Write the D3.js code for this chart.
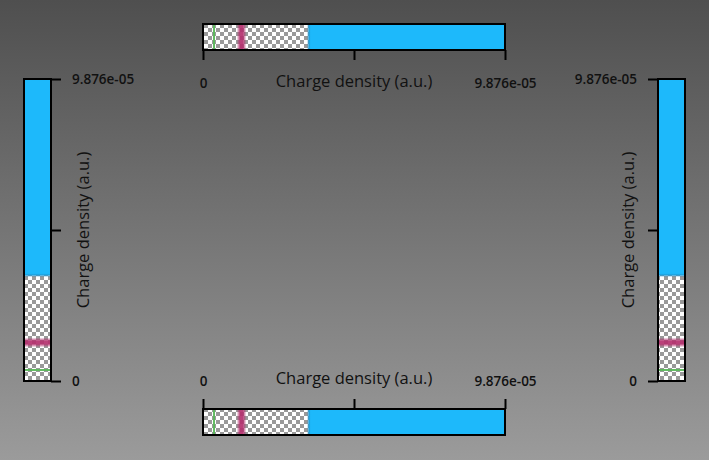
<!DOCTYPE html>
<html>
<head>
<meta charset="utf-8">
<script src="https://cdn.jsdelivr.net/npm/d3@7"></script>
<style>
  html, body { margin: 0; padding: 0; }
  body { width: 709px; height: 460px; overflow: hidden; }
  text { font-family: "Open Sans", "Noto Sans", sans-serif; fill: #111111; }
</style>
</head>
<body>
<svg id="chart" width="709" height="460"></svg>
<script>
// ---- data ----
const domainMin = 0;
const domainMax = 9.876e-05;
const tickValues = [0, 4.938e-05, 9.876e-05];
const tickLabels = ["0", "", "9.876e-05"];
const axisTitle = "Charge density (a.u.)";

// transfer-function stops (data value, colour, opacity)
const tfValues    = [0, 3.15e-6, 3.45e-6, 3.75e-6, 4.05e-6, 1.10e-5, 1.21e-5, 1.31e-5, 1.42e-5, 3.40e-5, 3.47e-5, 3.52e-5, 9.876e-05];
const tfColors    = ["#5cb85c", "#5cb85c", "#5cb85c", "#5cb85c", "#5cb85c", "#b4306e", "#b4306e", "#b4306e", "#b4306e", "#2a8cc4", "#1c9fdc", "#1db9fb", "#1db9fb"];
const tfOpacities = [0, 0, 1, 1, 0, 0, 0.92, 0.92, 0, 0, 1, 1, 1];

// ---- drawing ----
const svg = d3.select("#chart");
const defs = svg.append("defs");

// background
const bg = defs.append("linearGradient").attr("id", "bg")
  .attr("x1", 0).attr("y1", 0).attr("x2", 0).attr("y2", 1);
bg.append("stop").attr("offset", 0).attr("stop-color", "#4f4f4f");
bg.append("stop").attr("offset", 1).attr("stop-color", "#9b9b9b");
svg.append("rect").attr("width", 709).attr("height", 460).attr("fill", "url(#bg)");

// checkerboard
const cs = 4;
const pat = defs.append("pattern").attr("id", "checker")
  .attr("patternUnits", "userSpaceOnUse").attr("width", cs * 2).attr("height", cs * 2);
pat.append("rect").attr("width", cs * 2).attr("height", cs * 2).attr("fill", "#ffffff");
pat.append("rect").attr("x", cs).attr("width", cs).attr("height", cs).attr("fill", "#999999");
pat.append("rect").attr("y", cs).attr("width", cs).attr("height", cs).attr("fill", "#999999");

const frac = d3.scaleLinear().domain([domainMin, domainMax]).range([0, 1]);
function makeGradient(id, horizontal) {
  const g = defs.append("linearGradient").attr("id", id)
    .attr("x1", 0).attr("y1", horizontal ? 0 : 1)
    .attr("x2", horizontal ? 1 : 0).attr("y2", 0);
  g.selectAll("stop").data(tfValues).join("stop")
    .attr("offset", d => frac(d))
    .attr("stop-color", (d, i) => tfColors[i])
    .attr("stop-opacity", (d, i) => tfOpacities[i]);
}
makeGradient("tfH", true);
makeGradient("tfV", false);

const fmt = (d) => tickLabels[tickValues.indexOf(d)];

function styleAxis(g) {
  g.select(".domain").remove();
  g.selectAll(".tick line").attr("stroke", "#000").attr("stroke-width", 2);
  g.selectAll(".tick text").attr("fill", "#111111")
    .style("font-size", "13.5px").style("font-weight", "600");
}

const titleSize = "16.5px";
const titleWeight = "500";

// horizontal colorbars
function horizontalBar(y0, h, below) {
  const x = d3.scaleLinear().domain([domainMin, domainMax]).range([203, 505]);
  const [a, b] = x.range();
  svg.append("rect").attr("x", a).attr("y", y0).attr("width", b - a).attr("height", h)
    .attr("fill", "url(#checker)");
  svg.append("rect").attr("x", a).attr("y", y0).attr("width", b - a).attr("height", h)
    .attr("fill", "url(#tfH)");
  svg.append("rect").attr("x", a).attr("y", y0).attr("width", b - a).attr("height", h)
    .attr("fill", "none").attr("stroke", "#000").attr("stroke-width", 2);
  let ax;
  if (below) {
    ax = svg.append("g").attr("transform", `translate(0,${y0 + h})`)
      .call(d3.axisBottom(x).tickValues(tickValues).tickFormat(fmt).tickSize(10).tickPadding(18));
  } else {
    ax = svg.append("g").attr("transform", `translate(0,${y0})`)
      .call(d3.axisTop(x).tickValues(tickValues).tickFormat(fmt).tickSize(10).tickPadding(13));
  }
  styleAxis(ax);
  svg.append("text")
    .attr("x", (a + b) / 2)
    .attr("y", below ? y0 + h + 37 : y0 - 25)
    .attr("text-anchor", "middle")
    .style("font-size", titleSize).style("font-weight", titleWeight)
    .text(axisTitle);
}
horizontalBar(24, 26, true);
horizontalBar(409, 26, false);

// vertical colorbars
function verticalBar(x0, w, right) {
  const y = d3.scaleLinear().domain([domainMin, domainMax]).range([381, 79]);
  const [b, a] = y.range();
  svg.append("rect").attr("x", x0).attr("y", a).attr("width", w).attr("height", b - a)
    .attr("fill", "url(#checker)");
  svg.append("rect").attr("x", x0).attr("y", a).attr("width", w).attr("height", b - a)
    .attr("fill", "url(#tfV)");
  svg.append("rect").attr("x", x0).attr("y", a).attr("width", w).attr("height", b - a)
    .attr("fill", "none").attr("stroke", "#000").attr("stroke-width", 2);
  let ax, tx;
  if (right) {
    ax = svg.append("g").attr("transform", `translate(${x0 + w},0)`)
      .call(d3.axisRight(y).tickValues(tickValues).tickFormat(fmt).tickSize(10).tickPadding(11));
    tx = x0 + w + 38;
  } else {
    ax = svg.append("g").attr("transform", `translate(${x0},0)`)
      .call(d3.axisLeft(y).tickValues(tickValues).tickFormat(fmt).tickSize(10).tickPadding(11));
    tx = x0 - 24;
  }
  styleAxis(ax);
  svg.append("text")
    .attr("transform", `translate(${tx},${(a + b) / 2}) rotate(-90)`)
    .attr("text-anchor", "middle")
    .style("font-size", titleSize).style("font-weight", titleWeight)
    .text(axisTitle);
}
verticalBar(24, 27, true);
verticalBar(658, 27, false);
</script>
</body>
</html>
